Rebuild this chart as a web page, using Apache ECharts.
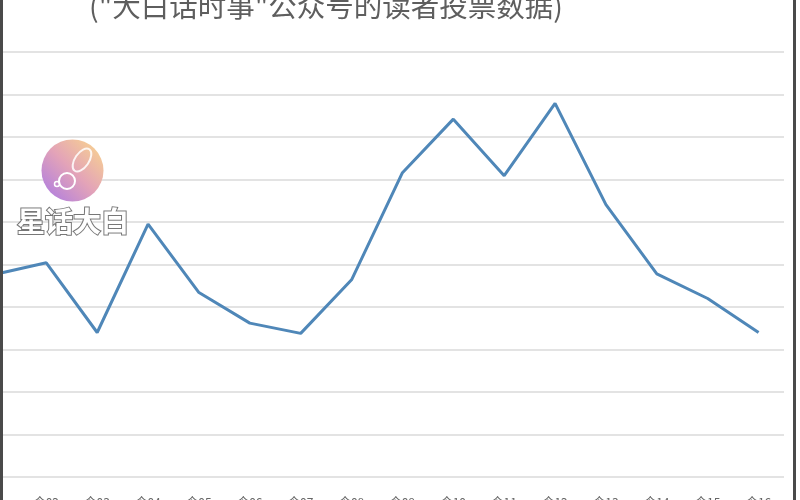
<!DOCTYPE html>
<html>
<head>
<meta charset="utf-8">
<script src="https://cdn.jsdelivr.net/npm/echarts@6/dist/echarts.min.js"></script>
<style>
html,body{margin:0;padding:0;background:#fff;overflow:hidden;width:800px;height:500px;position:relative;}
#main{width:830px;height:500px;position:absolute;left:-30px;top:0;}
#frameL{position:absolute;left:0;top:0;width:3px;height:500px;background:#4a4a4a;}
#frameR{position:absolute;left:793px;top:0;width:3px;height:500px;background:#4a4a4a;}
</style>
</head>
<body>
<div id="main"></div>
<div id="frameL"></div>
<div id="frameR"></div>
<script>
var titleText = '("大白话时事"公众号的读者投票数据)';
var categories = ['今01','今02','今03','今04','今05','今06','今07','今08','今09','今10','今11','今12','今13','今14','今15','今16'];
var votes = [4.77, 5.04, 3.40, 5.95, 4.34, 3.62, 3.38, 4.64, 7.16, 8.42, 7.09, 8.79, 6.41, 4.78, 4.20, 3.40];
var yTicks = [0, 1, 2, 3, 4, 5, 6, 7, 8, 9, 10];
var watermarkText = '星话大白';

var OX = 30; // container offset
var chart = echarts.init(document.getElementById('main'));
chart.setOption({
  animation: false,
  backgroundColor: '#ffffff',
  grid: { left: 0, right: 16, top: 52, bottom: 23, containLabel: false, outerBoundsMode: 'none' },
  xAxis: {
    type: 'category',
    data: categories,
    boundaryGap: true,
    axisLine: { show: false },
    axisTick: { show: false },
    axisLabel: {
      margin: 19, fontSize: 12, color: '#666', fontFamily: 'Noto Sans CJK SC',
      interval: function (idx) { return idx > 0; }
    },
    splitLine: { show: false }
  },
  yAxis: {
    type: 'value',
    min: yTicks[0],
    max: yTicks[yTicks.length - 1],
    interval: 1,
    axisLine: { show: false },
    axisTick: { show: false },
    axisLabel: { show: false },
    splitLine: { show: true, lineStyle: { color: '#e3e3e3', width: 2 } }
  },
  series: [{
    type: 'line',
    data: votes,
    symbol: 'none',
    smooth: false,
    lineStyle: { color: '#4f87b8', width: 3 }
  }],
  graphic: [
    {
      type: 'text', left: OX + 89, top: -8, z: 10,
      style: { text: titleText, font: '28.5px "Noto Sans CJK SC"', fill: '#5e5e5e' }
    },
    {
      type: 'circle', shape: { cx: OX + 72.5, cy: 170.5, r: 31 }, z: 10,
      style: {
        fill: new echarts.graphic.LinearGradient(1, 0, 0, 1, [
          { offset: 0, color: '#fbd98a' },
          { offset: 0.5, color: '#e3a3b8' },
          { offset: 1, color: '#a878e6' }
        ])
      }
    },
    {
      type: 'circle', shape: { cx: OX + 67, cy: 181, r: 8 }, z: 11,
      style: { fill: 'none', stroke: '#fff', lineWidth: 2 }
    },
    {
      type: 'ellipse', shape: { cx: OX + 82, cy: 160, rx: 7, ry: 13 }, rotation: -0.6, originX: OX + 82, originY: 160, z: 11,
      style: { fill: 'none', stroke: 'rgba(255,255,255,0.85)', lineWidth: 2 }
    },
    {
      type: 'circle', shape: { cx: OX + 57, cy: 184, r: 2.5 }, z: 11,
      style: { fill: 'none', stroke: '#fff', lineWidth: 1.5 }
    },
    {
      type: 'text', left: OX + 16, top: 206, z: 10,
      style: { text: watermarkText, font: 'bold 28px "Noto Sans CJK SC"', fill: '#ffffff', stroke: '#777', lineWidth: 2 }
    }
  ]
});
</script>
</body>
</html>
